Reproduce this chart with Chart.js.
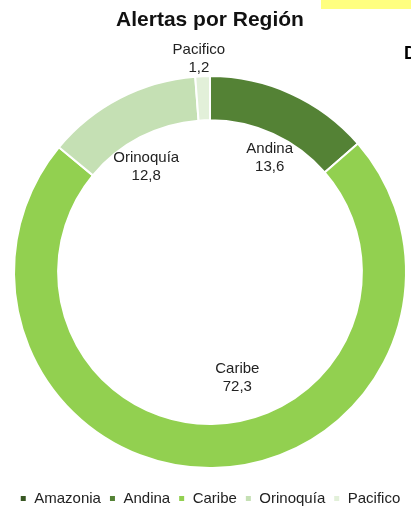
<!DOCTYPE html>
<html>
<head>
<meta charset="utf-8">
<script src="https://cdn.jsdelivr.net/npm/chart.js@4.4.1/dist/chart.umd.min.js"></script>
<style>
  body { margin: 0; background: #fff; }
  #wrap { position: relative; width: 411px; height: 513px; overflow: hidden; }
  #yellowBar { position: absolute; left: 321px; top: 0; width: 90px; height: 9px; background: #ffff80; }
  #cutLetter { position: absolute; left: 404px; top: 43px; font: bold 18px 'Liberation Sans', Arial, sans-serif; color: #000; }
</style>
</head>
<body>
<div id="wrap">
  <canvas id="regionChart" width="411" height="513"></canvas>
  <div id="yellowBar"></div>
  <div id="cutLetter">D</div>
</div>
<script>
// Alertas por región (porcentaje)
const regions = ['Amazonia', 'Andina', 'Caribe', 'Orinoquía', 'Pacifico'];
const alertShare = [0, 13.6, 72.3, 12.8, 1.2];
const regionColors = ['#385723', '#548235', '#92d050', '#c5e0b4', '#e2f0d9'];

// where each value label sits: fraction of outer radius along the slice middle, then a nudge
const labelRadius = [0.66, 0.66, 0.54, 0.63, 1.10];
const labelNudge = [[0, 0], [6, 3], [26, 0], [-7, 4], [-3, 2]];

const FONT = "'Liberation Sans', Arial, sans-serif";

const valueLabels = {
  id: 'valueLabels',
  afterDatasetsDraw(chart) {
    const { ctx } = chart;
    const meta = chart.getDatasetMeta(0);
    ctx.save();
    ctx.font = `15px ${FONT}`;
    ctx.fillStyle = '#222';
    ctx.textAlign = 'center';
    ctx.textBaseline = 'middle';
    meta.data.forEach((arc, i) => {
      if (!alertShare[i]) return;
      const mid = (arc.startAngle + arc.endAngle) / 2;
      const r = arc.outerRadius * labelRadius[i];
      const x = arc.x + Math.cos(mid) * r + labelNudge[i][0];
      const y = arc.y + Math.sin(mid) * r + labelNudge[i][1];
      ctx.fillText(regions[i], x, y - 9);
      ctx.fillText(alertShare[i].toFixed(1).replace('.', ','), x, y + 9);
    });
    ctx.restore();
  },
};

new Chart(document.getElementById('regionChart'), {
  type: 'doughnut',
  data: {
    labels: regions,
    datasets: [{
      data: alertShare,
      backgroundColor: regionColors,
      borderColor: '#fff',
      borderWidth: 2,
      hoverOffset: 0,
    }],
  },
  options: {
    responsive: false,
    animation: false,
    radius: 196,
    cutout: '77.5%',
    layout: { padding: { left: 9, right: 0, top: 0, bottom: -3 } },
    plugins: {
      title: {
        display: true,
        text: 'Alertas por Región',
        color: '#111',
        font: { family: FONT, size: 21, weight: 'bold' },
        padding: { top: 8, bottom: 28 },
      },
      legend: {
        position: 'bottom',
        labels: {
          color: '#222',
          font: { family: FONT, size: 15 },
          boxWidth: 7,
          boxHeight: 7,
          padding: 8,
        },
      },
      tooltip: { enabled: false },
    },
  },
  plugins: [valueLabels],
});
</script>
</body>
</html>
